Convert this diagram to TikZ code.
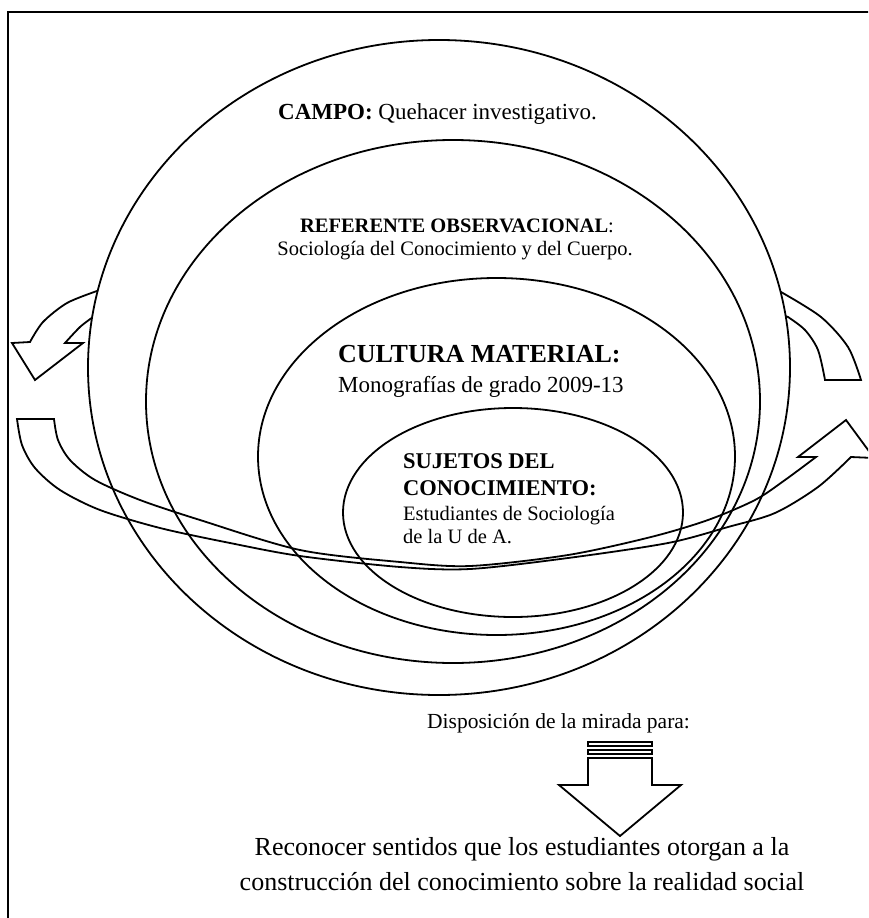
\documentclass[tikz,border=0pt]{standalone}
\usepackage{fontspec}
\setmainfont{Liberation Serif}
\tikzset{
  % node options
  txt/.style={inner sep=0pt,font=\fontsize{#1}{#1}\selectfont},
  boldtxt/.style={inner sep=0pt,font=\fontsize{#1}{#1}\selectfont\bfseries},
  % path options
  sphere/.style={draw,line width=1.8pt},
  band/.style={draw,line width=1.8pt,line join=miter},
  frame/.style={draw,line width=1.8pt},
}
\begin{document}
\begin{tikzpicture}[x=1pt,y=-1pt]
  \useasboundingbox (0,0) rectangle (868,918);
  \clip (0,0) rectangle (868,918);
  \draw[frame] (8,12) rectangle (890,940);
  % arrow that runs behind the sphere
  \draw[band] (861,380) -- (825,380)
    -- plot[smooth] coordinates {(825,380) (818,350) (805,330) (788,317)}
    .. controls (600,250) and (280,250) .. (93,317)
    -- plot[smooth] coordinates {(93,317) (80,327) (65,343)}
    -- (83,343) -- (35,380) -- (12,343) -- (30,342)
    -- plot[smooth] coordinates {(30,342) (43,322) (67,303) (97,291)}
    .. controls (280,220) and (600,220) .. (781,292)
    -- plot[smooth] coordinates {(781,292) (821,317) (848,347) (861,380)}
    -- cycle;
  % nested fields
  \draw[sphere,fill=white] (439,367.5) ellipse [x radius=351pt,y radius=327.5pt];
  \draw[sphere] (453,401.5) ellipse [x radius=307pt,y radius=261.5pt];
  \draw[sphere] (496.5,456.5) ellipse [x radius=238.5pt,y radius=178.5pt];
  \draw[sphere] (513,512.5) ellipse [x radius=170pt,y radius=104.5pt];
  \node[txt=23,anchor=base west] (campo) at (278,119) {\textbf{CAMPO:} Quehacer investigativo.};
  \node[txt=20.5,anchor=base] (refTitle) at (457,232) {\textbf{REFERENTE OBSERVACIONAL}:};
  \node[txt=20.5,anchor=base] (refText) at (455,255) {Sociología del Conocimiento y del Cuerpo.};
  \node[boldtxt=26,anchor=base west] (culturaTitle) at (338,362) {CULTURA MATERIAL:};
  \node[txt=23,anchor=base west] (culturaText) at (338,392) {Monografías de grado 2009-13};
  \node[boldtxt=22.5,anchor=base west] (sujetosA) at (403,468) {SUJETOS DEL};
  \node[boldtxt=22.5,anchor=base west] (sujetosB) at (403,495) {CONOCIMIENTO:};
  \node[txt=20.5,anchor=base west] (sujetosC) at (403,520) {Estudiantes de Sociología};
  \node[txt=20.5,anchor=base west] (sujetosD) at (403,543) {de la U de A.};
  % arrow that runs in front of the sphere
  \draw[band] (17,419) -- (54,419)
    -- plot[smooth] coordinates {(54,419) (58,440) (70,460) (95,480) (140,500) (200,520) (300,550) (400,562) (470,566) (568,555) (651,537) (708,520) (755,500) (785,480) (816,457)}
    -- (798,457) -- (846,420) -- (874,458) -- (851,457)
    -- plot[smooth] coordinates {(851,457) (818,487) (775,513) (728,527) (668,543) (568,558) (470,569) (400,567) (300,556) (230,543) (160,528) (100,510) (60,490) (35,468) (22,445) (17,419)}
    -- cycle;
  \node[txt=21.5,anchor=base west] (mirada) at (427,728) {Disposición de la mirada para:};
  % striped arrow down
  \draw[band,line width=1.2pt] (588,742) rectangle (652,746);
  \draw[band,line width=1.2pt] (588,750) rectangle (652,754);
  \draw[band] (588,758) -- (588,785) -- (559,785) -- (620,836) -- (681,785) -- (652,785) -- (652,758) -- cycle;
  \node[txt=26,anchor=base] (meta1) at (522,855) {Reconocer sentidos que los estudiantes otorgan a la};
  \node[txt=26,anchor=base] (meta2) at (522,890) {construcción del conocimiento sobre la realidad social};
\end{tikzpicture}
\end{document}
